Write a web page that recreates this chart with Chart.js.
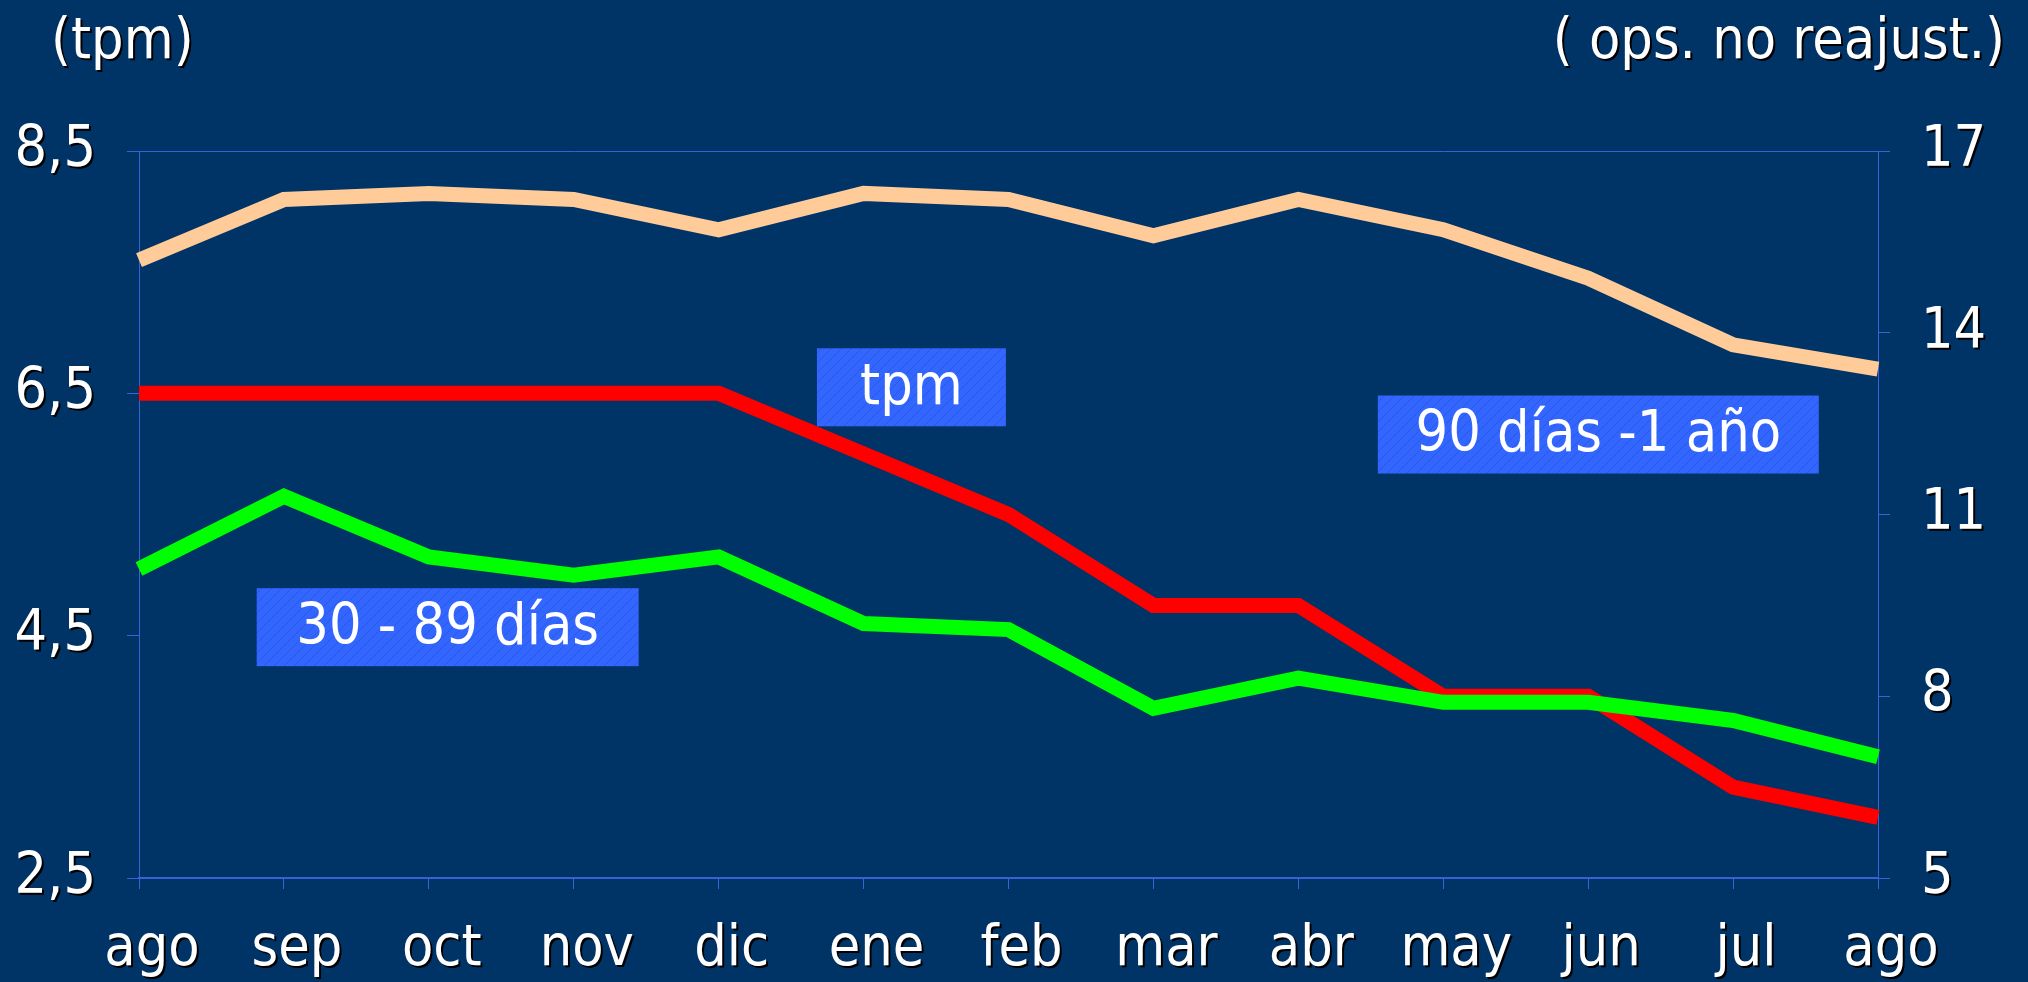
<!DOCTYPE html>
<html>
<head>
<meta charset="utf-8">
<script src="https://cdn.jsdelivr.net/npm/chart.js@4"></script>
<style>
  html, body { margin: 0; padding: 0; background: #003366; }
  #wrap { width: 2028px; height: 982px; }
</style>
</head>
<body>
<div id="wrap"><canvas id="chart" width="2028" height="982"></canvas></div>
<script>
// months, aug 2001 .. aug 2002
const months = ['ago', 'sep', 'oct', 'nov', 'dic', 'ene', 'feb', 'mar', 'abr', 'may', 'jun', 'jul', 'ago'];

// left axis (tpm)
const tpm = [6.5, 6.5, 6.5, 6.5, 6.5, 6.0, 5.5, 4.75, 4.75, 4.0, 4.0, 3.25, 3.0];
// right axis (ops. no reajust.)
const dias30a89 = [10.1, 11.3, 10.3, 10.0, 10.3, 9.2, 9.1, 7.8, 8.3, 7.9, 7.9, 7.6, 7.0];
const dias90a1ano = [15.2, 16.2, 16.3, 16.2, 15.7, 16.3, 16.2, 15.6, 16.2, 15.7, 14.9, 13.8, 13.4];

const seriesNames = ['tpm', '30 - 89 días', '90 días -1 año'];
const leftTitle = '(tpm)';
const rightTitle = '( ops. no reajust.)';
const leftRange = [2.5, 8.5, 2];
const rightRange = [5, 17, 3];

const FONT = "'DejaVu Sans Condensed', 'Open Sans', sans-serif";
const axisBlue = '#3a62d6';

// where the blue name boxes sit (x in category index, y in left-axis units)
const boxes = [
  { text: seriesNames[0], x: 5.33, y: 6.55, w: 189 },
  { text: seriesNames[1], x: 2.13, y: 4.57, w: 382 },
  { text: seriesNames[2], x: 10.07, y: 6.16, w: 441 },
];

const hatch = (() => {
  const c = document.createElement('canvas');
  c.width = 10; c.height = 10;
  const g = c.getContext('2d');
  g.fillStyle = '#3366ff';
  g.fillRect(0, 0, 10, 10);
  g.strokeStyle = 'rgba(30,70,200,0.45)';
  g.lineWidth = 1;
  g.beginPath();
  g.moveTo(0, 10); g.lineTo(10, 0);
  g.moveTo(-5, 5); g.lineTo(5, -5);
  g.moveTo(5, 15); g.lineTo(15, 5);
  g.stroke();
  return c;
})();

const decor = {
  id: 'decor',
  afterDatasetsDraw(chart) {
    // tick labels are drawn after this (z: 1), give them the dark drop shadow
    const ctx = chart.ctx;
    ctx.save();
    ctx.shadowColor = '#000';
    ctx.shadowOffsetX = 2;
    ctx.shadowOffsetY = 2;
    ctx.shadowBlur = 0;
  },
  afterDraw(chart) {
    const ctx = chart.ctx;
    ctx.restore();

    // axis titles
    ctx.save();
    ctx.shadowColor = '#000';
    ctx.shadowOffsetX = 2;
    ctx.shadowOffsetY = 2;
    ctx.fillStyle = '#fff';
    ctx.font = '57px ' + FONT;
    ctx.textBaseline = 'alphabetic';
    ctx.textAlign = 'left';
    ctx.fillText(leftTitle, 51, 58);
    ctx.textAlign = 'right';
    ctx.fillText(rightTitle, 2005, 58);
    ctx.restore();

    // series name boxes
    const xs = chart.scales.x, yl = chart.scales.yLeft;
    ctx.save();
    ctx.font = '57px ' + FONT;
    ctx.textAlign = 'center';
    ctx.textBaseline = 'middle';
    boxes.forEach(b => {
      const cx = xs.getPixelForValue(b.x);
      const cy = yl.getPixelForValue(b.y);
      ctx.fillStyle = ctx.createPattern(hatch, 'repeat');
      ctx.fillRect(cx - b.w / 2, cy - 39, b.w, 78);
      ctx.fillStyle = '#fff';
      ctx.fillText(b.text, cx, cy + 2);
    });
    ctx.restore();
  },
};

const tickFont = { family: FONT, size: 57 };

const config = {
  type: 'line',
  data: {
    labels: [...months],
    datasets: [
      {
        label: seriesNames[2],
        data: [...dias90a1ano],
        yAxisID: 'yRight',
        borderColor: '#ffcc99',
      },
      {
        label: seriesNames[1],
        data: [...dias30a89],
        yAxisID: 'yRight',
        borderColor: '#00ff00',
      },
      {
        label: seriesNames[0],
        data: [...tpm],
        yAxisID: 'yLeft',
        borderColor: '#ff0000',
      },
    ],
  },
  options: {
    responsive: false,
    animation: false,
    devicePixelRatio: 1,
    layout: { padding: { top: 151, left: 0, right: 0, bottom: 0 } },
    elements: {
      line: { borderWidth: 15, tension: 0, borderJoinStyle: 'miter', borderCapStyle: 'butt' },
      point: { radius: 0 },
    },
    plugins: {
      legend: false,
      tooltip: { enabled: false },
    },
    scales: {
      x: {
        offset: false,
        grid: { drawOnChartArea: false, tickLength: 11, color: axisBlue, tickColor: axisBlue },
        border: { color: axisBlue, width: 2 },
        ticks: {
          color: '#fff', font: tickFont, padding: 27, labelOffset: 13,
          maxRotation: 0, autoSkip: false, z: 1,
        },
        afterFit: (s) => { s.height = 104; },
      },
      yLeft: {
        position: 'left',
        min: leftRange[0], max: leftRange[1],
        grid: {
          tickLength: 12,
          color: (c) => (c.tick && c.tick.value === leftRange[1] ? axisBlue : 'transparent'),
          tickColor: axisBlue,
        },
        border: { color: axisBlue, width: 1 },
        ticks: {
          stepSize: leftRange[2], color: '#fff', font: tickFont, padding: 31, z: 1,
          callback: (v) => v.toFixed(1).replace('.', ','),
        },
        afterFit: (s) => { s.width = 139; },
      },
      yRight: {
        position: 'right',
        min: rightRange[0], max: rightRange[1],
        grid: { drawOnChartArea: false, tickLength: 12, color: axisBlue, tickColor: axisBlue },
        border: { color: axisBlue, width: 1 },
        ticks: { stepSize: rightRange[2], color: '#fff', font: tickFont, padding: 31, z: 1 },
        afterFit: (s) => { s.width = 150; },
      },
    },
  },
  plugins: [decor],
};

new Chart(document.getElementById('chart'), config);
</script>
</body>
</html>
